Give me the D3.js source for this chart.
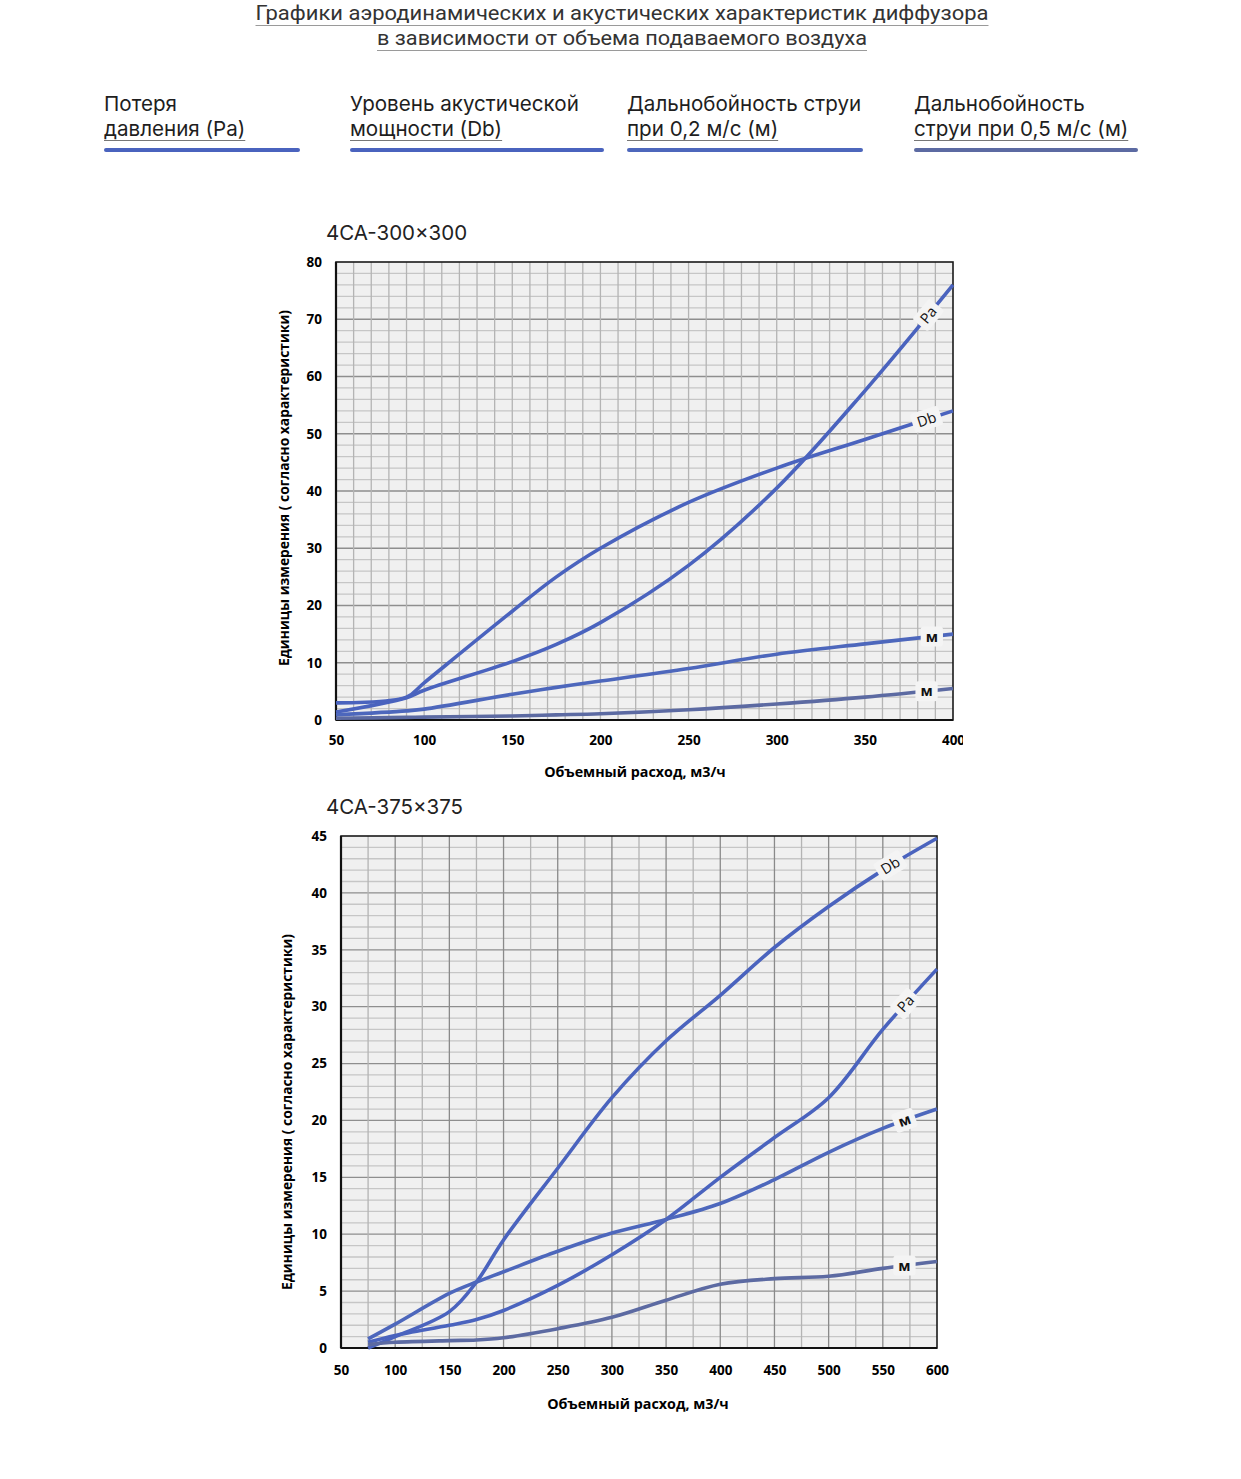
<!DOCTYPE html>
<html>
<head>
<meta charset="utf-8">
<script src="https://cdn.jsdelivr.net/npm/d3@7"></script>
<style>
  body { margin: 0; background: #fff; }
</style>
</head>
<body>
<div id="page"></div>
<script>
// ---------- data ----------
const titleLines = [
  "Графики аэродинамических и акустических характеристик  диффузора",
  "в зависимости от объема подаваемого воздуха"
];
const legendLabels = [
  ["Потеря", "давления (Pa)"],
  ["Уровень акустической", "мощности (Db)"],
  ["Дальнобойность струи", "при 0,2 м/с (м)"],
  ["Дальнобойность", "струи при 0,5 м/с (м)"]
];
const seriesTags = ["Pa", "Db", "м", "м"];
const seriesColors = ["#4a63be", "#4a63be", "#4d67bc", "#5c6aa2"];

const xAxisTitle = "Объемный расход, м3/ч";
const yAxisTitle = "Единицы измерения ( согласно характеристики)";

// chart 1: 4CA-300x300
const chart1Title = "4CA-300×300";
const chart1Flow   = [50, 90, 100, 150, 175, 200, 250, 300, 350, 400];
const chart1Pa     = [1.4, 3.9, 5.2, 10.2, 13.2, 17, 27, 40.5, 57.5, 76];
const chart1Db     = [3, 4, 6.5, 19, 25, 30, 38, 44, 49, 54];
const chart1Jet02  = [0.9, 1.6, 1.9, 4.5, 5.7, 6.8, 9, 11.5, 13.3, 15];
const chart1Jet05  = [0.3, 0.45, 0.5, 0.7, 0.9, 1.1, 1.8, 2.8, 4, 5.5];
const chart1XTicks = [50, 100, 150, 200, 250, 300, 350, 400];
const chart1YTicks = [0, 10, 20, 30, 40, 50, 60, 70, 80];

// chart 2: 4CA-375x375
const chart2Title = "4CA-375x375";
const chart2Flow   = [75, 100, 150, 175, 200, 250, 300, 350, 400, 450, 500, 550, 600];
const chart2Pa     = [0.5, 1.1, 2, 2.5, 3.3, 5.5, 8.2, 11.3, 15, 18.5, 22, 28, 33.3];
const chart2Db     = [0, 1, 3.2, 5.8, 9.5, 15.8, 22, 27, 31, 35.2, 38.8, 42, 44.8];
const chart2Jet02  = [0.8, 2.1, 4.8, 5.8, 6.7, 8.5, 10.1, 11.3, 12.7, 14.8, 17.2, 19.3, 21];
const chart2Jet05  = [0.3, 0.5, 0.65, 0.7, 0.9, 1.7, 2.7, 4.2, 5.6, 6.1, 6.3, 7, 7.6];
const chart2XTicks = [50, 100, 150, 200, 250, 300, 350, 400, 450, 500, 550, 600];
const chart2YTicks = [0, 5, 10, 15, 20, 25, 30, 35, 40, 45];

// ---------- page ----------
const W = 1241, H = 1479;
const svg = d3.select("#page").append("svg")
  .attr("width", W)
  .attr("height", H)
  .style("display", "block")
  .style("background", "#fff");

const defs = svg.append("defs");

// Page title, two underlined lines
const titleSpecs = [{ y: 20, len: 733 }, { y: 45, len: 490 }];
titleLines.forEach((t, i) => {
  svg.append("text")
    .attr("x", 622)
    .attr("y", titleSpecs[i].y)
    .attr("text-anchor", "middle")
    .attr("textLength", titleSpecs[i].len)
    .attr("lengthAdjust", "spacingAndGlyphs")
    .style("font-family", "Roboto, sans-serif")
    .style("font-size", "20px")
    .attr("fill", "#333")
    .text(t);
  svg.append("line")
    .attr("x1", 622 - titleSpecs[i].len / 2).attr("x2", 622 + titleSpecs[i].len / 2)
    .attr("y1", titleSpecs[i].y + 5.5).attr("y2", titleSpecs[i].y + 5.5)
    .attr("stroke", "#9a9a9a").attr("stroke-width", 1);
});

// Legend
const legendX = [104, 350, 627, 914];
const legendW = [196, 254, 236, 224];
legendLabels.forEach((lines, i) => {
  const g = svg.append("g").attr("transform", `translate(${legendX[i]},0)`);
  lines.forEach((l, j) => {
    const t = g.append("text")
      .attr("x", 0)
      .attr("y", 111 + j * 25)
      .style("font-family", "Inter, sans-serif")
      .style("font-size", "20.6px")
      .attr("fill", "#1e1e1e")
      .text(l);
    if (j === 1) {
      const w = t.node().getComputedTextLength();
      g.append("line")
        .attr("x1", 0).attr("x2", w)
        .attr("y1", 140.5).attr("y2", 140.5)
        .attr("stroke", "#777").attr("stroke-width", 1);
    }
  });
  g.append("line")
    .attr("x1", 2).attr("x2", legendW[i] - 2)
    .attr("y1", 150).attr("y2", 150)
    .attr("stroke", seriesColors[i])
    .attr("stroke-width", 4)
    .attr("stroke-linecap", "round");
});

// ---------- chart drawing ----------
function drawChart(o) {
  const x = d3.scaleLinear().domain(o.xDomain).range([o.left, o.right]);
  const y = d3.scaleLinear().domain(o.yDomain).range([o.bottom, o.top]);
  const g = svg.append("g");

  // title
  g.append("text")
    .attr("x", 326)
    .attr("y", o.top - 22)
    .style("font-family", "Inter, sans-serif")
    .style("font-size", "20.5px")
    .attr("fill", "#222")
    .text(o.title);

  // plot background
  g.append("rect")
    .attr("x", o.left).attr("y", o.top)
    .attr("width", o.right - o.left).attr("height", o.bottom - o.top)
    .attr("fill", "#f0f0f0");

  // horizontal grid
  const yLines = d3.range(o.yDomain[0] + o.yStep, o.yDomain[1], o.yStep);
  g.selectAll(null).data(yLines).join("line")
    .attr("x1", o.left).attr("x2", o.right)
    .attr("y1", d => y(d)).attr("y2", d => y(d))
    .attr("stroke", d => Math.abs(d % o.yMajor) < 1e-6 ? "#8e8e8e" : "#c6c6c6")
    .attr("stroke-width", 1.3);

  // vertical grid
  const xLines = d3.range(o.xDomain[0] + o.xStep, o.xDomain[1], o.xStep);
  g.selectAll(null).data(xLines).join("line")
    .attr("y1", o.top).attr("y2", o.bottom)
    .attr("x1", d => x(d)).attr("x2", d => x(d))
    .attr("stroke", d => Math.abs(d % o.xMajor) < 1e-6 ? "#8a8a8a" : "#b4b4b4")
    .attr("stroke-width", 1.3);

  // frame
  g.append("rect")
    .attr("x", o.left).attr("y", o.top)
    .attr("width", o.right - o.left).attr("height", o.bottom - o.top)
    .attr("fill", "none")
    .attr("stroke", "#1a1a1a")
    .attr("stroke-width", 1.6);
  g.append("line")
    .attr("x1", o.left).attr("x2", o.right)
    .attr("y1", o.bottom).attr("y2", o.bottom)
    .attr("stroke", "#111").attr("stroke-width", 2.2);
  g.append("line")
    .attr("x1", o.left).attr("x2", o.left)
    .attr("y1", o.top).attr("y2", o.bottom)
    .attr("stroke", "#111").attr("stroke-width", 2.2);

  // axes (labels only)
  const clipId = "clip-" + o.id;
  defs.append("clipPath").attr("id", clipId)
    .append("rect").attr("x", 0).attr("y", 0).attr("width", o.clipRight).attr("height", H);

  const xAxis = g.append("g")
    .attr("transform", `translate(0,${o.bottom})`)
    .attr("clip-path", `url(#${clipId})`)
    .call(d3.axisBottom(x).tickValues(o.xTicks).tickSize(0).tickPadding(o.xPad));
  const yAxis = g.append("g")
    .attr("transform", `translate(${o.left},0)`)
    .call(d3.axisLeft(y).tickValues(o.yTicks).tickSize(0).tickPadding(o.yPad));
  [xAxis, yAxis].forEach(a => {
    a.select(".domain").remove();
    a.selectAll(".tick text")
      .style("font-family", "'Open Sans', sans-serif")
      .style("font-size", "13.5px")
      .style("font-weight", "bold")
      .attr("fill", "#000");
  });

  // axis titles
  g.append("text")
    .attr("x", o.xTitleX)
    .attr("y", o.bottom + o.xTitleDy)
    .attr("text-anchor", "middle")
    .style("font-family", "'Open Sans', sans-serif")
    .style("font-size", "14.3px")
    .style("font-weight", "bold")
    .text(xAxisTitle);
  g.append("text")
    .attr("transform", `translate(${o.yTitleX},${o.yTitleY}) rotate(-90)`)
    .attr("text-anchor", "middle")
    .style("font-family", "'Open Sans', sans-serif")
    .style("font-size", "13.8px")
    .style("font-weight", "bold")
    .text(yAxisTitle);

  // series lines
  const line = d3.line()
    .x(d => x(d[0]))
    .y(d => y(d[1]))
    .curve(d3.curveCatmullRom.alpha(0.5));

  o.series.forEach((vals, i) => {
    const pts = o.flow.map((f, k) => [f, vals[k]]);
    const path = g.append("path")
      .datum(pts)
      .attr("fill", "none")
      .attr("stroke", seriesColors[i])
      .attr("stroke-width", 3.6)
      .attr("d", line);

    // inline series tag, placed on the curve at a given flow value
    const node = path.node();
    const total = node.getTotalLength();
    const tx = x(o.tagAt[i]);
    let lo = 0, hi = total;
    for (let k = 0; k < 40; k++) {
      const mid = (lo + hi) / 2;
      if (node.getPointAtLength(mid).x < tx) lo = mid; else hi = mid;
    }
    const p = node.getPointAtLength(lo);
    const p0 = node.getPointAtLength(Math.max(0, lo - 6));
    const p1 = node.getPointAtLength(Math.min(total, lo + 6));
    let ang = Math.atan2(p1.y - p0.y, p1.x - p0.x) * 180 / Math.PI;
    if (Math.abs(ang) < 10) ang = 0;

    const lg = g.append("g").attr("transform", `translate(${p.x},${p.y}) rotate(${ang})`);
    const lt = lg.append("text")
      .attr("text-anchor", "middle")
      .attr("dy", "0.36em")
      .style("font-family", "'Open Sans', sans-serif")
      .style("font-size", "14.5px")
      .style("font-weight", seriesTags[i] === "м" ? "bold" : "normal")
      .attr("fill", "#111")
      .text(seriesTags[i]);
    const w = lt.node().getComputedTextLength();
    lg.insert("rect", "text")
      .attr("x", -w / 2 - 5).attr("y", -10)
      .attr("width", w + 10).attr("height", 20)
      .attr("rx", 3)
      .attr("fill", "#f4f4f4");
  });
}

drawChart({
  id: "c1",
  title: chart1Title,
  left: 336, right: 953, top: 262, bottom: 720,
  xDomain: [50, 400], yDomain: [0, 80],
  xStep: 10, xMajor: 1000, yStep: 2, yMajor: 10,
  xTicks: chart1XTicks, yTicks: chart1YTicks,
  xPad: 15, yPad: 14, clipRight: 963,
  xTitleX: 635, xTitleDy: 57, yTitleX: 289, yTitleY: 488,
  flow: chart1Flow,
  series: [chart1Pa, chart1Db, chart1Jet02, chart1Jet05],
  tagAt: [386, 385, 388, 385]
});

drawChart({
  id: "c2",
  title: chart2Title,
  left: 341, right: 937, top: 836, bottom: 1348,
  xDomain: [50, 600], yDomain: [0, 45],
  xStep: 25, xMajor: 50, yStep: 1, yMajor: 5,
  xTicks: chart2XTicks, yTicks: chart2YTicks,
  xPad: 17, yPad: 14, clipRight: W,
  xTitleX: 638, xTitleDy: 61, yTitleX: 292, yTitleY: 1112,
  flow: chart2Flow,
  series: [chart2Pa, chart2Db, chart2Jet02, chart2Jet05],
  tagAt: [571, 557, 570, 570]
});
</script>
</body>
</html>
